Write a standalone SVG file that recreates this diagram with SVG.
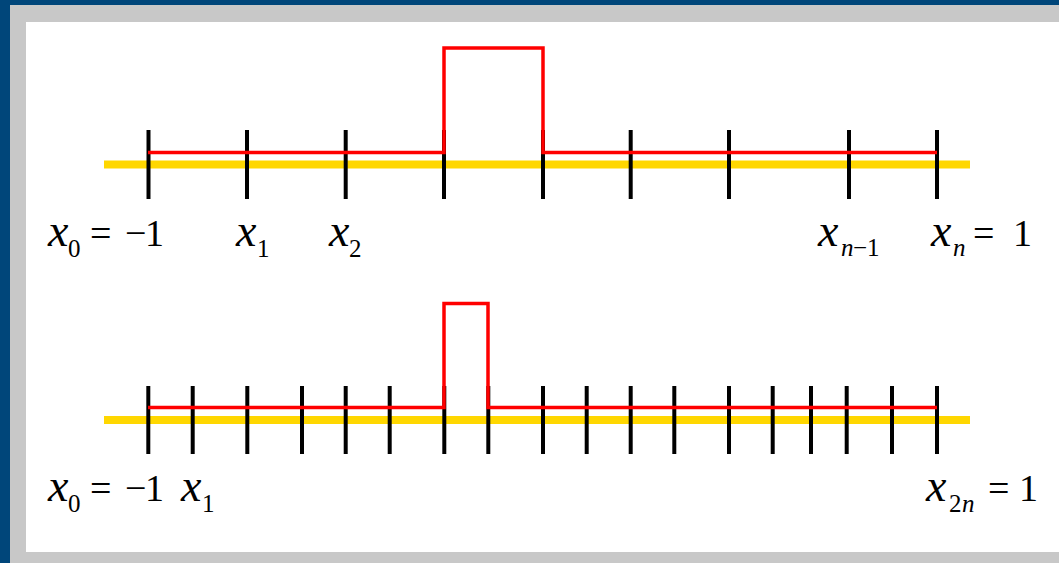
<svg xmlns="http://www.w3.org/2000/svg" width="1059" height="563" viewBox="0 0 1059 563">
<style>
.axis{stroke:#ffd700;stroke-width:8;fill:none}
.tick{stroke:#000;stroke-width:4}
.fn{stroke:#ff0000;stroke-width:3.5;fill:none;stroke-linejoin:miter}
.lbl text{fill:#000;font-family:"Liberation Serif","Times New Roman",Times,"DejaVu Serif",serif}
.v{font-style:italic;font-size:46px}
.s{font-size:25px}
.si{font-size:25px;font-style:italic}
.o{font-size:38px}
</style>
<g id="frame">
<rect width="1059" height="563" fill="#00467a"/>
<rect x="10" y="5" width="1049" height="558" fill="#c8c8c8"/>
<rect x="26" y="22" width="1033" height="530" fill="#ffffff"/>
</g>
<g id="top-grid">
<line class="axis" x1="104" y1="164.5" x2="970" y2="164.5"/>
<g class="tick">
<line x1="148.5" y1="130" x2="148.5" y2="199"/>
<line x1="247" y1="130" x2="247" y2="199"/>
<line x1="345.7" y1="130" x2="345.7" y2="199"/>
<line x1="444" y1="130" x2="444" y2="199"/>
<line x1="543" y1="130" x2="543" y2="199"/>
<line x1="630.7" y1="130" x2="630.7" y2="199"/>
<line x1="729" y1="130" x2="729" y2="199"/>
<line x1="849" y1="130" x2="849" y2="199"/>
<line x1="937" y1="130" x2="937" y2="199"/>
</g>
<path class="fn" d="M148,152.5 H444 V48 H543 V152.5 H937"/>
</g>
<g id="bottom-grid">
<line class="axis" x1="104" y1="420" x2="970" y2="420"/>
<g class="tick">
<line x1="148.3" y1="386" x2="148.3" y2="454"/>
<line x1="192.7" y1="386" x2="192.7" y2="454"/>
<line x1="247.3" y1="386" x2="247.3" y2="454"/>
<line x1="302" y1="386" x2="302" y2="454"/>
<line x1="345.7" y1="386" x2="345.7" y2="454"/>
<line x1="389.7" y1="386" x2="389.7" y2="454"/>
<line x1="444.3" y1="386" x2="444.3" y2="454"/>
<line x1="488.3" y1="386" x2="488.3" y2="454"/>
<line x1="543" y1="386" x2="543" y2="454"/>
<line x1="586.7" y1="386" x2="586.7" y2="454"/>
<line x1="630.7" y1="386" x2="630.7" y2="454"/>
<line x1="674.3" y1="386" x2="674.3" y2="454"/>
<line x1="729" y1="386" x2="729" y2="454"/>
<line x1="772.7" y1="386" x2="772.7" y2="454"/>
<line x1="811" y1="386" x2="811" y2="454"/>
<line x1="846.7" y1="386" x2="846.7" y2="454"/>
<line x1="892" y1="386" x2="892" y2="454"/>
<line x1="937" y1="386" x2="937" y2="454"/>
</g>
<path class="fn" d="M148,407.5 H444 V303.5 H488 V407.5 H937"/>
</g>
<g id="top-labels" class="lbl">
<text class="v" x="48" y="246">x</text><text class="s" x="68" y="257">0</text><text class="o" x="90" y="246">=</text><text class="o" x="125" y="246">−</text><text class="o" x="145" y="246">1</text>
<text class="v" x="236" y="246">x</text><text class="s" x="257" y="257">1</text>
<text class="v" x="329" y="246">x</text><text class="s" x="349" y="257">2</text>
<text class="v" x="818" y="246">x</text><text class="si" x="841" y="256">n</text><text class="s" x="853" y="256">−1</text>
<text class="v" x="931" y="246">x</text><text class="si" x="953" y="256">n</text><text class="o" x="973" y="246">=</text><text class="o" x="1013" y="246">1</text>
</g>
<g id="bottom-labels" class="lbl">
<text class="v" x="48" y="501">x</text><text class="s" x="68" y="512">0</text><text class="o" x="90" y="501">=</text><text class="o" x="125" y="501">−</text><text class="o" x="145" y="501">1</text>
<text class="v" x="181" y="501">x</text><text class="s" x="202" y="512">1</text>
<text class="v" x="926" y="501">x</text><text class="s" x="949" y="512">2</text><text class="si" x="962" y="512">n</text><text class="o" x="988" y="501">=</text><text class="o" x="1019" y="501">1</text>
</g>
</svg>
